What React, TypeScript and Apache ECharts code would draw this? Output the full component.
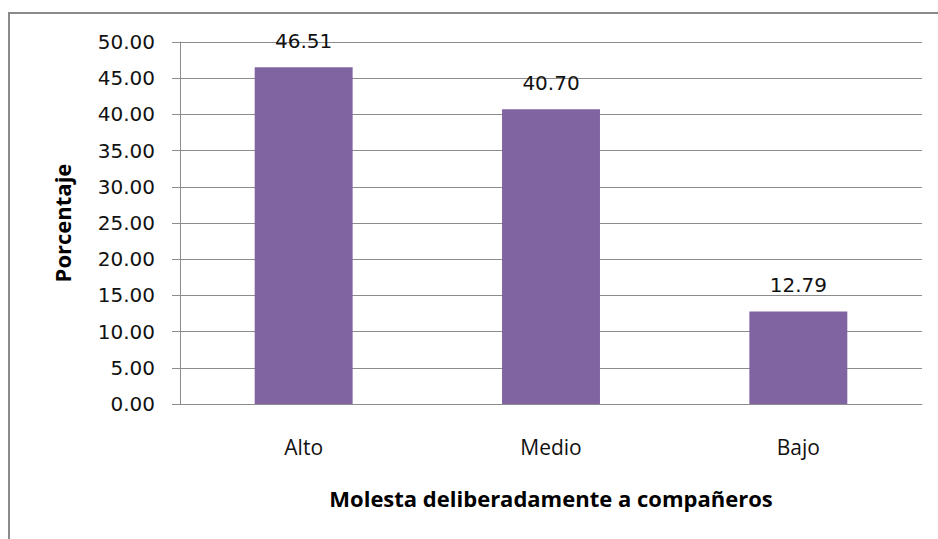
import React, { useEffect, useRef } from "react";
import * as echarts from "echarts";

const categories = ["Alto", "Medio", "Bajo"];
const values = [46.51, 40.7, 12.79];
const yTicks = { min: 0, max: 50, interval: 5 };
const xTitle = "Molesta deliberadamente a compañeros";
const yTitle = "Porcentaje";

export default function App() {
  const ref = useRef<HTMLDivElement>(null);
  useEffect(() => {
    document.body.style.margin = "0";
    const chart = echarts.init(ref.current!, null, { renderer: "svg" });
    const font = "'Open Sans', 'DejaVu Sans', sans-serif";
    const numFont = "'DejaVu Sans', sans-serif";
    chart.setOption({
      animation: false,
      backgroundColor: "#ffffff",
      graphic: [
        {
          type: "rect",
          shape: { x: 9, y: 13, width: 940, height: 540 },
          style: { fill: "none", stroke: "#8a8a8a", lineWidth: 2 },
          silent: true,
        },
      ],
      grid: { left: 180, right: 16, top: 42, bottom: 135, containLabel: false },
      xAxis: {
        type: "category",
        data: categories,
        axisLine: { lineStyle: { color: "#8c8c8c", width: 1 } },
        axisTick: { show: false },
        axisLabel: { color: "#111", fontSize: 21, fontFamily: font, margin: 32 },
        name: xTitle,
        nameLocation: "middle",
        nameGap: 83,
        nameTextStyle: { color: "#000", fontSize: 22, fontWeight: "bold", fontFamily: font },
      },
      yAxis: {
        type: "value",
        min: yTicks.min,
        max: yTicks.max,
        interval: yTicks.interval,
        axisLine: { show: true, lineStyle: { color: "#8c8c8c", width: 1 } },
        axisTick: { show: true, inside: false, length: 8, lineStyle: { color: "#8c8c8c" } },
        splitLine: { lineStyle: { color: "#8c8c8c", width: 1 } },
        axisLabel: {
          color: "#111",
          fontSize: 20,
          fontFamily: numFont,
          margin: 25,
          formatter: (v: number) => v.toFixed(2),
        },
        name: yTitle,
        nameLocation: "middle",
        nameRotate: 90,
        nameGap: 107,
        nameTextStyle: { color: "#000", fontSize: 22, fontWeight: "bold", fontFamily: font },
      },
      series: [
        {
          type: "bar",
          data: values,
          barWidth: "39.6%",
          itemStyle: { color: "#8064A2" },
          label: {
            show: true,
            position: "top",
            distance: 16,
            color: "#111",
            fontSize: 20,
            fontFamily: numFont,
            formatter: (p: any) => Number(p.value).toFixed(2),
          },
        },
      ],
    });
    return () => chart.dispose();
  }, []);
  return <div ref={ref} style={{ width: 938, height: 539 }} />;
}
